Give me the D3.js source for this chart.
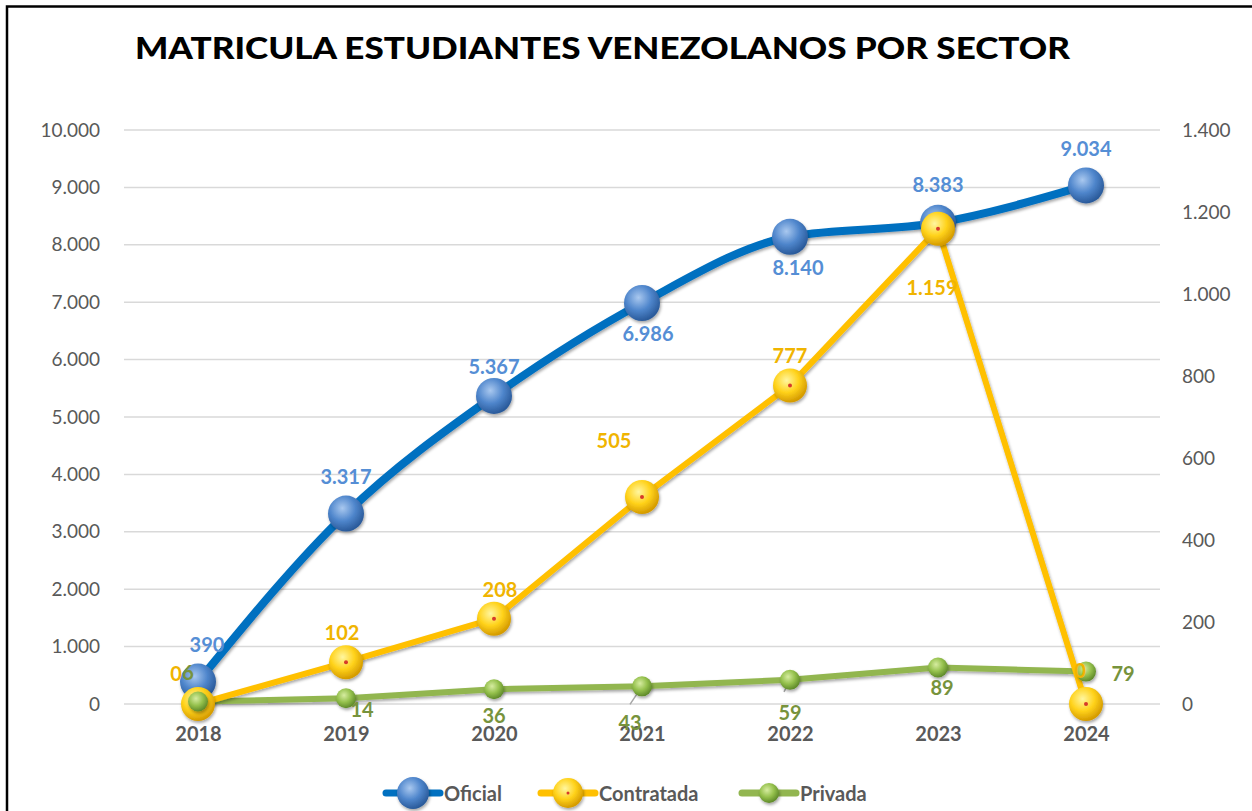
<!DOCTYPE html>
<html>
<head>
<meta charset="utf-8">
<script src="https://cdnjs.cloudflare.com/ajax/libs/d3/7.8.5/d3.min.js"></script>
<style>
body { margin: 0; background: #fff; }
svg { display: block; font-family: Lato, "Open Sans", sans-serif; }
</style>
</head>
<body>
<div id="target"></div>
<script>
var WIDTH = 1252, HEIGHT = 811;

var years = ["2018", "2019", "2020", "2021", "2022", "2023", "2024"];
var oficial = [390, 3317, 5367, 6986, 8140, 8383, 9034];
var contratada = [0, 102, 208, 505, 777, 1159, 0];
var privada = [6, 14, 36, 43, 59, 89, 79];
var leftTicks = [0, 1000, 2000, 3000, 4000, 5000, 6000, 7000, 8000, 9000, 10000];
var rightTicks = [0, 200, 400, 600, 800, 1000, 1200, 1400];

// label offsets (dx, dy) relative to each point
var oficialLbl = [[9, -38], [0, -38], [0, -30], [6, 30], [8, 30], [0, -39], [0, -37]];
var contratadaLbl = [[-22, -31], [-4, -30], [6, -30], [-28, -57], [0, -30], [-6, 58], [-6, -34]];
var privadaLbl = [[-10, -30], [16, 11], [0, 26], [-12, 36], [0, 32], [4, 19], [37, 1]];

var fmt = function(v) { return d3.format(",")(v).replace(/,/g, "."); };

var svg = d3.select("#target").append("svg").attr("width", WIDTH).attr("height", HEIGHT);
var defs = svg.append("defs");

function ball(id, light, mid, dark) {
  var gr = defs.append("radialGradient").attr("id", id)
    .attr("cx", "40%").attr("cy", "35%").attr("r", "65%");
  gr.append("stop").attr("offset", "0%").attr("stop-color", light);
  gr.append("stop").attr("offset", "55%").attr("stop-color", mid);
  gr.append("stop").attr("offset", "100%").attr("stop-color", dark);
}
ball("gBlue", "#a9c8ef", "#4f86cc", "#2a5a9a");
ball("gYellow", "#fff6a0", "#ffd21a", "#d49a00");
ball("gGreen", "#d6eca0", "#94c04c", "#5f8a2a");

var sh = defs.append("filter").attr("id", "shadow").attr("x", "-50%").attr("y", "-50%").attr("width", "200%").attr("height", "200%");
sh.append("feDropShadow").attr("dx", 1).attr("dy", 2).attr("stdDeviation", 1.6).attr("flood-color", "#000").attr("flood-opacity", 0.35);

// frame
svg.append("rect").attr("x", 7).attr("y", 6.5).attr("width", 1400).attr("height", 900)
  .attr("fill", "none").attr("stroke", "#000").attr("stroke-width", 2.5);

svg.append("text").attr("x", 135).attr("y", 59)
  .attr("textLength", 935).attr("lengthAdjust", "spacingAndGlyphs")
  .attr("font-size", 31).attr("font-weight", 900).attr("fill", "#000")
  .text("MATRICULA ESTUDIANTES VENEZOLANOS POR SECTOR");

var x = d3.scalePoint().domain(years).range([124, 1160]).padding(0.5);
var yL = d3.scaleLinear().domain([0, 10000]).range([704, 130]);
var yR = d3.scaleLinear().domain([0, 1400]).range([704, 130]);

var g = svg.append("g");

// gridlines
g.selectAll("line.grid").data(leftTicks).enter().append("line")
  .attr("x1", 124).attr("x2", 1160)
  .attr("y1", function(d) { return yL(d); }).attr("y2", function(d) { return yL(d); })
  .attr("stroke", "#d9d9d9").attr("stroke-width", 1.5);

var axL = g.append("g").attr("transform", "translate(112,0)")
  .call(d3.axisLeft(yL).tickValues(leftTicks).tickFormat(fmt).tickSize(0).tickPadding(12));
var axR = g.append("g").attr("transform", "translate(1170,0)")
  .call(d3.axisRight(yR).tickValues(rightTicks).tickFormat(fmt).tickSize(0).tickPadding(12));
var axX = g.append("g").attr("transform", "translate(0,704)")
  .call(d3.axisBottom(x).tickSize(0).tickPadding(23));
[axL, axR, axX].forEach(function(a) {
  a.select(".domain").remove();
  a.selectAll("text").attr("fill", "#595959").attr("font-size", 19)
    .attr("font-family", "Lato, sans-serif");
});
axX.selectAll("text").attr("font-weight", 700).attr("font-size", 20);

function series(vals, yScale, color, width, curve) {
  var line = d3.line()
    .x(function(d, i) { return x(years[i]); })
    .y(function(d) { return yScale(d); })
    .curve(curve);
  g.append("path").attr("d", line(vals)).attr("fill", "none")
    .attr("stroke", color).attr("stroke-width", width)
    .attr("stroke-linejoin", "round").attr("stroke-linecap", "round")
    .attr("filter", "url(#shadow)");
}
function markers(vals, yScale, grad, r, dot) {
  var m = g.append("g").selectAll("g").data(vals).enter().append("g")
    .attr("transform", function(d, i) { return "translate(" + x(years[i]) + "," + yScale(d) + ")"; });
  m.append("circle").attr("r", r).attr("fill", "url(#" + grad + ")").attr("filter", "url(#shadow)");
  if (dot) m.append("circle").attr("r", 2).attr("fill", dot);
}
function labels(vals, yScale, offs, color) {
  g.append("g").selectAll("text").data(vals).enter().append("text")
    .attr("x", function(d, i) { return x(years[i]) + offs[i][0]; })
    .attr("y", function(d, i) { return yScale(d) + offs[i][1]; })
    .attr("text-anchor", "middle").attr("dominant-baseline", "central")
    .attr("font-size", 20).attr("font-weight", 700).attr("fill", color)
    .text(function(d) { return fmt(d); });
}

series(oficial, yL, "#0070c0", 8, d3.curveMonotoneX);
series(privada, yR, "#92b650", 6, d3.curveLinear);
series(contratada, yR, "#ffc000", 6, d3.curveLinear);

// leader lines for small privada labels
[[0, -8, -10], [3, -12, 18], [4, -6, 12]].forEach(function(p) {
  var i = p[0], cx = x(years[i]), cy = yR(privada[i]);
  g.append("line").attr("x1", cx).attr("y1", cy)
    .attr("x2", cx + p[1]).attr("y2", cy + p[2])
    .attr("stroke", "#a6a6a6").attr("stroke-width", 1.5);
});

markers(oficial, yL, "gBlue", 18, null);
markers(contratada, yR, "gYellow", 17, "#d63a2a");
markers(privada, yR, "gGreen", 10, null);

labels(oficial, yL, oficialLbl, "#558ed5");
labels(contratada, yR, contratadaLbl, "#f0b400");
labels(privada, yR, privadaLbl, "#77933c");

// legend
var legend = [
  { name: "Oficial", color: "#0070c0", grad: "gBlue", r: 16, dot: null, x: 386 },
  { name: "Contratada", color: "#ffc000", grad: "gYellow", r: 15, dot: "#d63a2a", x: 541 },
  { name: "Privada", color: "#92b650", grad: "gGreen", r: 10, dot: null, x: 742 }
];
var lg = svg.append("g").selectAll("g").data(legend).enter().append("g")
  .attr("transform", function(d) { return "translate(" + d.x + ",793)"; });
lg.append("line").attr("x1", 0).attr("x2", 54).attr("stroke", function(d) { return d.color; })
  .attr("stroke-width", 7).attr("stroke-linecap", "round");
lg.append("circle").attr("cx", 27).attr("r", function(d) { return d.r; })
  .attr("fill", function(d) { return "url(#" + d.grad + ")"; }).attr("filter", "url(#shadow)");
lg.filter(function(d) { return d.dot; }).append("circle").attr("cx", 27).attr("r", 1.5).attr("fill", "#d63a2a");
lg.append("text").attr("x", 58).attr("y", 0).attr("dominant-baseline", "central")
  .attr("font-size", 20).attr("font-weight", 700).attr("fill", "#595959")
  .text(function(d) { return d.name; });
</script>
</body>
</html>
